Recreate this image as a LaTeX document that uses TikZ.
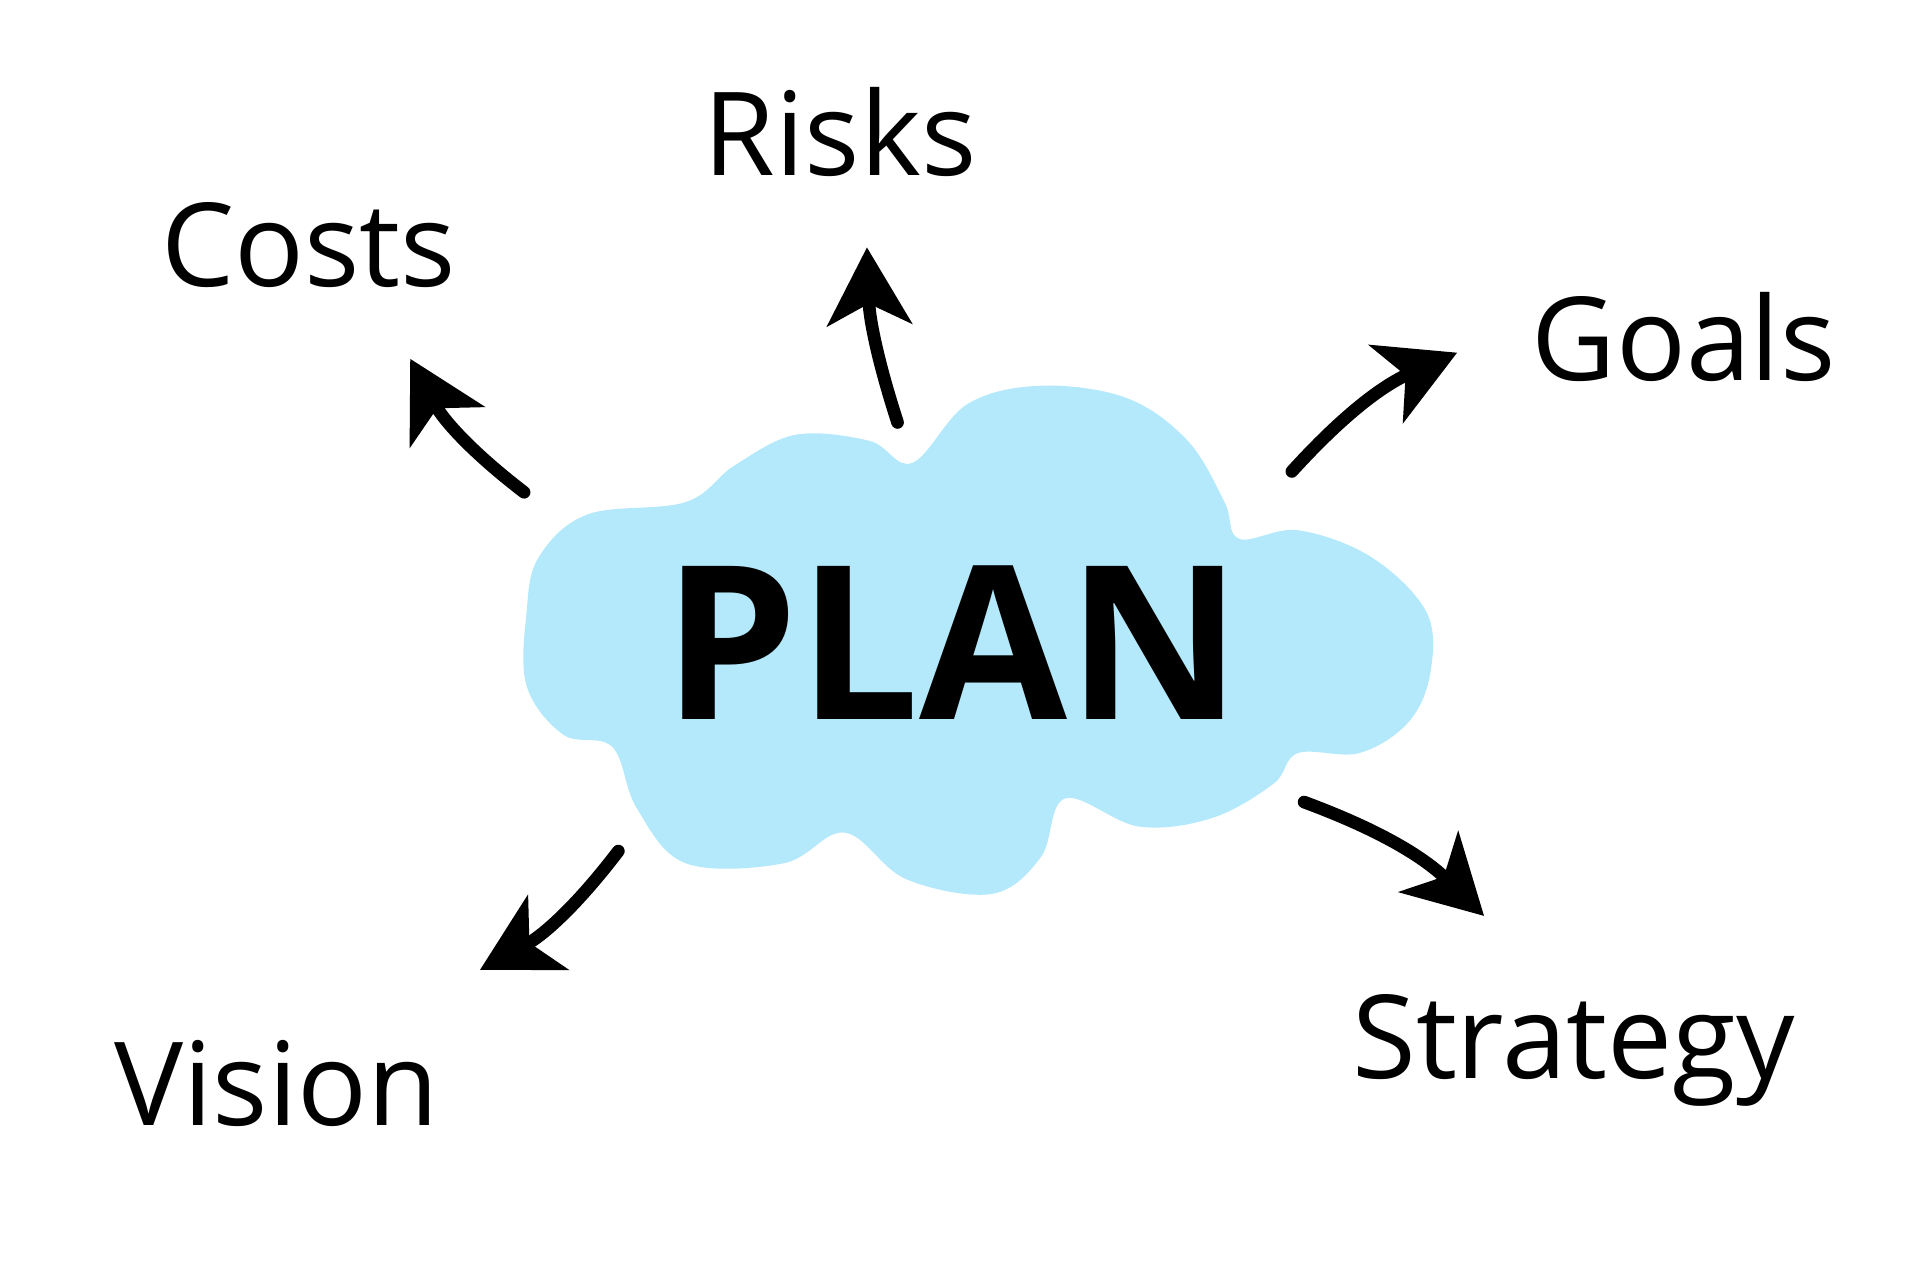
\documentclass[tikz,border=0pt]{standalone}
\usepackage{fontspec}
\setmainfont{Open Sans}
\usetikzlibrary{arrows.meta}
\definecolor{cloudblue}{HTML}{B3E9FB}
\tikzset{
  word/.style={font=\fontsize{33}{33}\selectfont, inner sep=0pt},
  swoosh/.style={line width=3.6pt, line cap=round, -{Stealth[length=22pt, width=24pt, inset=6pt]}}
}
\begin{document}
\begin{tikzpicture}[x=0.012245cm, y=-0.012245cm]
\useasboundingbox (0,0) rectangle (1568,1046);

% cloud behind the title
\fill[cloudblue] plot[smooth cycle, tension=0.6] coordinates {
 (440,455) (480,420) (560,410) (600,380) (650,355) (710,360) (745,378)
 (790,330) (850,315) (920,325) (970,360) (1000,410) (1012,440) (1060,433)
 (1120,455) (1165,500) (1168,550) (1150,590) (1110,615) (1060,615)
 (1040,640) (990,668) (930,675) (870,652) (850,700) (810,730) (740,718)
 (690,680) (640,705) (560,705) (520,660) (500,610) (460,600) (430,560) (430,500)};

\node[inner sep=0pt, font=\fontsize{61}{61}\selectfont\bfseries] (plan) at (778,525) {PLAN};

\node[word] (risks) at (686,108) {Risks};
\node[word] (costs) at (252,200) {Costs};
\node[word] (goals) at (1375,275) {Goals};
\node[word] (vision) at (226,885) {Vision};
\node[word] (strategy) at (1285,858) {Strategy};

\coordinate (c1) at (428,402); \coordinate (c2) at (335,293);
\coordinate (r1) at (733,345); \coordinate (r2) at (708,202);
\coordinate (g1) at (1055,385); \coordinate (g2) at (1190,288);
\coordinate (s1) at (1065,655); \coordinate (s2) at (1212,748);
\coordinate (v1) at (505,695); \coordinate (v2) at (392,792);

\draw[swoosh] (c1) to[bend left=12] (c2);
\draw[swoosh] (r1) to[bend left=8] (r2);
\draw[swoosh] (g1) to[bend left=12] (g2);
\draw[swoosh] (s1) to[bend left=12] (s2);
\draw[swoosh] (v1) to[bend left=12] (v2);
\end{tikzpicture}
\end{document}
